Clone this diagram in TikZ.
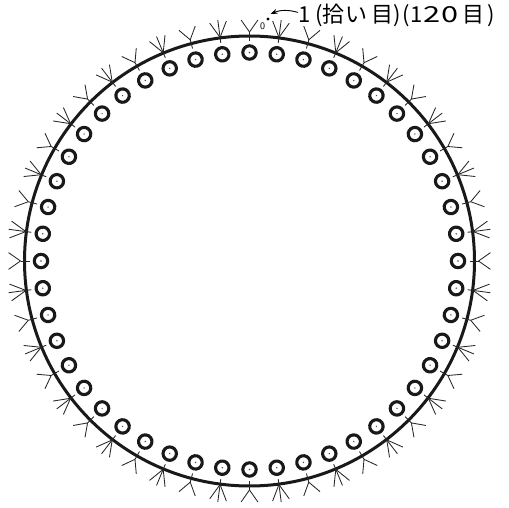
\documentclass[tikz,border=0pt]{standalone}
\usepackage{fontspec}
\newfontfamily\cjk{Noto Sans CJK JP}
\newfontfamily\cjkwide[FakeStretch=1.4]{Noto Sans CJK JP}
\usetikzlibrary{arrows.meta}

\tikzset{
    bigring/.style={line width=3pt, black!90},
    smallring/.style={line width=3.1pt, black!90},
    stitch/.style={line width=0.85pt, black!85}
}

\begin{document}
\begin{tikzpicture}[x=1pt, y=1pt]

    % 1. Rahmen und Mittelpunkt
    \useasboundingbox (0,0) rectangle (509,507);
    \coordinate (M) at (249.5,246);

    % 2. Grosser Kreis
    \draw[bigring] (M) circle (225);

    % 3. Maschen rundherum (48 Stueck, abwechselnd zwei und drei Zacken)
    \foreach \i in {0,...,47} {
        \begin{scope}[shift={(M)}, rotate=7.5*\i]
            \draw[smallring] (0,208.5) circle (6.7);
            \fill[black!70] (0,208.5) circle (0.8);
            \ifodd\i
                \draw[stitch] (0,220) -- (0,243);
                \draw[stitch] (0,225.5) -- (-8.4,241);
                \draw[stitch] (0,225.5) -- (8.4,241);
            \else
                \draw[stitch] (0,220) -- (0,229);
                \draw[stitch] (0,229) -- (-8.4,241);
                \draw[stitch] (0,229) -- (8.4,241);
            \fi
        \end{scope}
    }

    % 4. Beschriftung oben rechts
    \node[font=\cjk\fontsize{22}{22}\selectfont, anchor=base west, inner sep=0pt] (L) at (298,484.5)
        {1\hspace{5pt}(拾\hspace{1pt}い\hspace{4pt}目)\hspace{1pt}(\hspace{1pt}1\hspace{1pt}{\cjkwide 20}\hspace{4pt}目\hspace{3pt})};
    \node[font=\sffamily\fontsize{10}{10}\selectfont, inner sep=0pt] (N) at (262.5,481) {0};
    \coordinate (P) at (268,488);
    \fill (P) circle (1.6);
    \draw[-{Stealth[length=7pt,width=5pt]}, line width=0.9pt] ([yshift=3]L.west) .. controls (288,497.5) and (280,497) .. (270.5,493);

\end{tikzpicture}
\end{document}
